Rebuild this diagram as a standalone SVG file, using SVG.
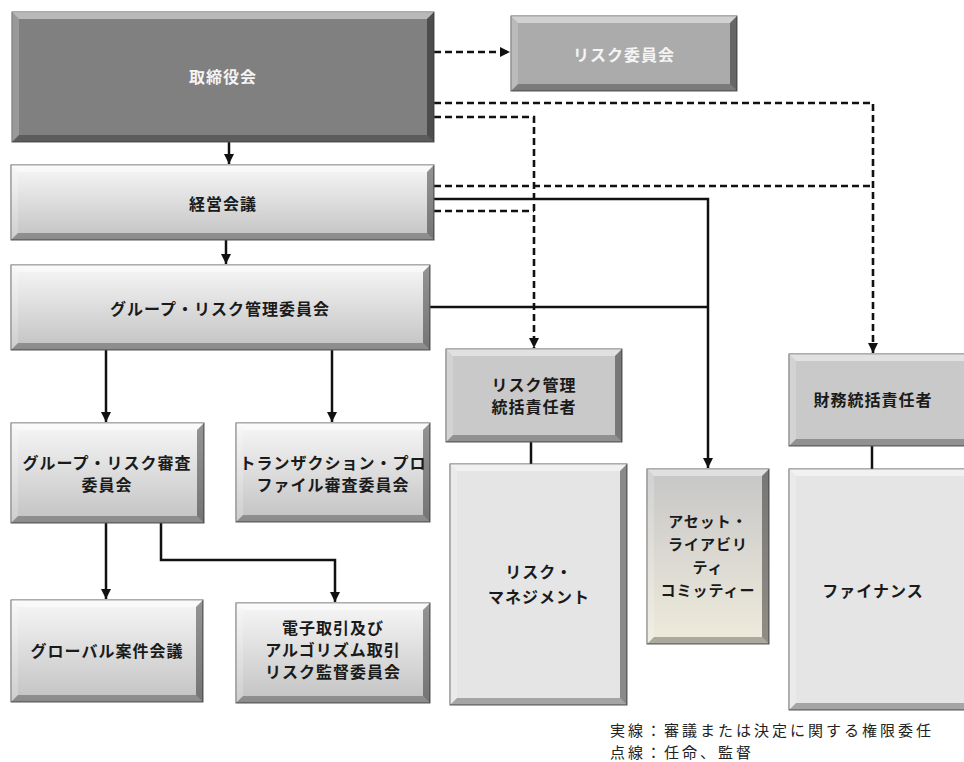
<svg xmlns="http://www.w3.org/2000/svg" width="964" height="762" viewBox="0 0 964 762">
<defs>
<linearGradient id="gLight" x1="0" y1="0" x2="0" y2="1"><stop offset="0" stop-color="#f7f7f7"/><stop offset="1" stop-color="#c2c2c2"/></linearGradient>
<linearGradient id="gAlc" x1="0" y1="0" x2="0" y2="1"><stop offset="0" stop-color="#c6c6c6"/><stop offset="1" stop-color="#efebdc"/></linearGradient>
<marker id="ah" markerUnits="userSpaceOnUse" markerWidth="12" markerHeight="12" refX="10" refY="5" orient="auto"><path d="M0,0 L10,5 L0,10 z" fill="#111"/></marker>
</defs>
<style>
.box{stroke:#5a5a5a;stroke-width:1}
.dark{fill:#808080}
.mid{fill:#ababab}
.grad{fill:url(#gLight)}
.gray{fill:#c9c9c9}
.pale{fill:#e5e5e5}
.alc{fill:url(#gAlc)}
.bt{fill:#ffffff;opacity:0.45}
.bl{fill:#ffffff;opacity:0.2}
.br{fill:#000000;opacity:0.4}
.bb{fill:#000000;opacity:0.28}
text{font-family:"Noto Sans CJK JP","Noto Sans CJK SC",sans-serif;font-weight:700;font-size:16px;letter-spacing:1px;text-anchor:middle;fill:#1a1a1a}
text.w{fill:#f4f4f4}
text.s{font-size:15px}
text.legend{font-weight:400;font-size:15px;letter-spacing:3px;text-anchor:start;fill:#222}
.ln{fill:none;stroke:#111;stroke-width:2.5}
.ds{fill:none;stroke:#111;stroke-width:2.6;stroke-dasharray:7 4}
</style>
<rect width="964" height="762" fill="#ffffff"/>
<g id="connectors">
<path class="ds" d="M434,52 H510" marker-end="url(#ah)"/>
<path class="ds" d="M434,103 H873 V353" marker-end="url(#ah)"/>
<path class="ds" d="M434,117 H534 V348" marker-end="url(#ah)"/>
<path class="ds" d="M434,186 H873"/>
<path class="ln" d="M434,199 H708 V468" marker-end="url(#ah)"/>
<path class="ds" d="M434,211 H534"/>
<path class="ln" d="M430,307 H708"/>
<path class="ln" d="M229,142 V164" marker-end="url(#ah)"/>
<path class="ln" d="M226,240 V264" marker-end="url(#ah)"/>
<path class="ln" d="M106,350 V422" marker-end="url(#ah)"/>
<path class="ln" d="M332,350 V422" marker-end="url(#ah)"/>
<path class="ln" d="M106,523 V599" marker-end="url(#ah)"/>
<path class="ln" d="M161,523 V560 H335 V602" marker-end="url(#ah)"/>
<path class="ln" d="M531,442 V464"/>
<path class="ln" d="M872,446 V469"/>
</g>
<g id="n1">
<rect class="box dark" x="12" y="12" width="422" height="130"/>
<polygon class="bt" points="12,12 434,12 427,19 19,19"/>
<polygon class="bl" points="12,12 19,19 19,135 12,142"/>
<polygon class="br" points="434,12 434,142 427,135 427,19"/>
<polygon class="bb" points="12,142 434,142 427,135 19,135"/>
<text class="w" x="223" y="83">取締役会</text>
</g>
<g id="n2">
<rect class="box mid" x="511" y="16" width="226" height="75"/>
<polygon class="bt" points="511,16 737,16 730,23 518,23"/>
<polygon class="bl" points="511,16 518,23 518,84 511,91"/>
<polygon class="br" points="737,16 737,91 730,84 730,23"/>
<polygon class="bb" points="511,91 737,91 730,84 518,84"/>
<text class="w" x="624" y="61">リスク委員会</text>
</g>
<g id="n3">
<rect class="box grad" x="11" y="165" width="423" height="75"/>
<polygon class="bt" points="11,165 434,165 427,172 18,172"/>
<polygon class="bl" points="11,165 18,172 18,233 11,240"/>
<polygon class="br" points="434,165 434,240 427,233 427,172"/>
<polygon class="bb" points="11,240 434,240 427,233 18,233"/>
<text x="223" y="210">経営会議</text>
</g>
<g id="n4">
<rect class="box grad" x="11" y="265" width="419" height="85"/>
<polygon class="bt" points="11,265 430,265 423,272 18,272"/>
<polygon class="bl" points="11,265 18,272 18,343 11,350"/>
<polygon class="br" points="430,265 430,350 423,343 423,272"/>
<polygon class="bb" points="11,350 430,350 423,343 18,343"/>
<text x="220" y="315">グループ・リスク管理委員会</text>
</g>
<g id="n5">
<rect class="box grad" x="11" y="423" width="193" height="100"/>
<polygon class="bt" points="11,423 204,423 197,430 18,430"/>
<polygon class="bl" points="11,423 18,430 18,516 11,523"/>
<polygon class="br" points="204,423 204,523 197,516 197,430"/>
<polygon class="bb" points="11,523 204,523 197,516 18,516"/>
<text x="107" y="469">グループ・リスク審査</text>
<text x="107" y="491">委員会</text>
</g>
<g id="n6">
<rect class="box grad" x="236" y="423" width="194" height="99"/>
<polygon class="bt" points="236,423 430,423 423,430 243,430"/>
<polygon class="bl" points="236,423 243,430 243,515 236,522"/>
<polygon class="br" points="430,423 430,522 423,515 423,430"/>
<polygon class="bb" points="236,522 430,522 423,515 243,515"/>
<text x="333" y="469">トランザクション・プロ</text>
<text x="333" y="491">ファイル審査委員会</text>
</g>
<g id="n7">
<rect class="box grad" x="11" y="600" width="192" height="102"/>
<polygon class="bt" points="11,600 203,600 196,607 18,607"/>
<polygon class="bl" points="11,600 18,607 18,695 11,702"/>
<polygon class="br" points="203,600 203,702 196,695 196,607"/>
<polygon class="bb" points="11,702 203,702 196,695 18,695"/>
<text x="107" y="657">グローバル案件会議</text>
</g>
<g id="n8">
<rect class="box grad" x="236" y="603" width="194" height="100"/>
<polygon class="bt" points="236,603 430,603 423,610 243,610"/>
<polygon class="bl" points="236,603 243,610 243,696 236,703"/>
<polygon class="br" points="430,603 430,703 423,696 423,610"/>
<polygon class="bb" points="236,703 430,703 423,696 243,696"/>
<text x="333" y="634">電子取引及び</text>
<text x="333" y="656">アルゴリズム取引</text>
<text x="333" y="678">リスク監督委員会</text>
</g>
<g id="n9">
<rect class="box gray" x="446" y="349" width="176" height="93"/>
<polygon class="bt" points="446,349 622,349 615,356 453,356"/>
<polygon class="bl" points="446,349 453,356 453,435 446,442"/>
<polygon class="br" points="622,349 622,442 615,435 615,356"/>
<polygon class="bb" points="446,442 622,442 615,435 453,435"/>
<text x="534" y="391">リスク管理</text>
<text x="534" y="413">統括責任者</text>
</g>
<g id="n10">
<rect class="box pale" x="450" y="464" width="177" height="241"/>
<polygon class="bt" points="450,464 627,464 620,471 457,471"/>
<polygon class="bl" points="450,464 457,471 457,698 450,705"/>
<polygon class="br" points="627,464 627,705 620,698 620,471"/>
<polygon class="bb" points="450,705 627,705 620,698 457,698"/>
<text x="539" y="578">リスク・</text>
<text x="539" y="603">マネジメント</text>
</g>
<g id="n11">
<rect class="box alc" x="647" y="469" width="122" height="175"/>
<polygon class="bt" points="647,469 769,469 762,476 654,476"/>
<polygon class="bl" points="647,469 654,476 654,637 647,644"/>
<polygon class="br" points="769,469 769,644 762,637 762,476"/>
<polygon class="bb" points="647,644 769,644 762,637 654,637"/>
<text class="s" x="708" y="527">アセット・</text>
<text class="s" x="708" y="550">ライアビリ</text>
<text class="s" x="708" y="573">ティ</text>
<text class="s" x="708" y="596">コミッティー</text>
</g>
<g id="n12">
<rect class="box gray" x="789" y="354" width="182" height="92"/>
<polygon class="bt" points="789,354 971,354 964,361 796,361"/>
<polygon class="bl" points="789,354 796,361 796,439 789,446"/>
<polygon class="bb" points="789,446 971,446 964,439 796,439"/>
<text x="873" y="406">財務統括責任者</text>
</g>
<g id="n13">
<rect class="box pale" x="789" y="469" width="182" height="241"/>
<polygon class="bt" points="789,469 971,469 964,476 796,476"/>
<polygon class="bl" points="789,469 796,476 796,703 789,710"/>
<polygon class="bb" points="789,710 971,710 964,703 796,703"/>
<text x="873" y="597">ファイナンス</text>
</g>
<g id="legend">
<text class="legend" x="610" y="736">実線：審議または決定に関する権限委任</text>
<text class="legend" x="610" y="758">点線：任命、監督</text>
</g>
</svg>
